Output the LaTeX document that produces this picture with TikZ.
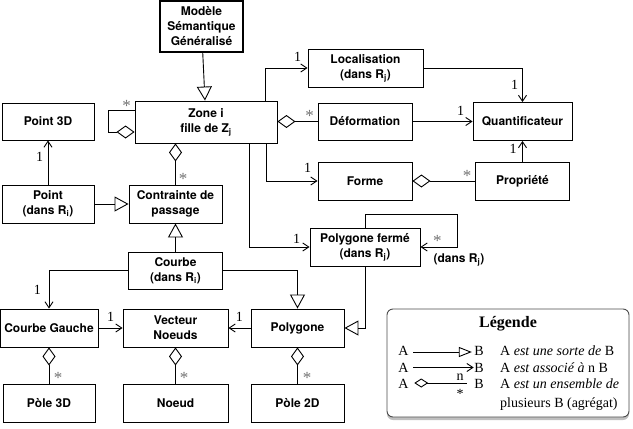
\documentclass[tikz,border=0pt]{standalone}
\usepackage{fontspec}
\setmainfont{Liberation Serif}
\setsansfont{TeX Gyre Heros}
\usetikzlibrary{arrows.meta,shadows}

\tikzset{
    classe/.style={draw, line width=0.9pt, minimum width=#1, minimum height=38pt, inner sep=0pt,
        align=center, font=\sffamily\bfseries\fontsize{12}{15}\selectfont},
    classe/.default=94pt,
    herite/.style={line width=0.9pt, -{Triangle[open,length=14pt,width=15pt]}},
    assoc/.style={line width=0.9pt, -{Straight Barb[length=6pt,width=8pt]}},
    agreg/.style={line width=0.9pt, {Diamond[open,length=18pt,width=13pt]}-},
    mult/.style={font=\fontsize{14}{14}\selectfont, inner sep=0pt},
    etoile/.style={font=\fontsize{17}{17}\selectfont, inner sep=0pt, text=black!55, yshift=-2.5pt},
    leg/.style={font=\fontsize{14}{14}\selectfont, inner sep=0pt},
}

\begin{document}
\begin{tikzpicture}[x=1pt,y=-1pt]
        \useasboundingbox (0,0) rectangle (633,429);

        \node[classe=83pt, minimum height=51pt, line width=2.4pt] (modele) at (201.5,26.5) {Modèle\\Sémantique\\Généralisé};
        \node[classe=142pt, minimum height=42pt] (zone) at (206,122) {Zone i\\fille de Z\textsubscript{j}};
        \node[classe=92pt, minimum height=37pt] (point3d) at (48,121.5) {Point 3D};
        \node[classe=92pt] (point) at (48,204) {Point\\(dans R\textsubscript{i})};
        \node[classe=93pt] (contrainte) at (175.5,204) {Contrainte de\\passage};
        \node[classe=115pt] (loc) at (365.5,68) {Localisation\\(dans R\textsubscript{j})};
        \node[classe=94pt, minimum height=37pt] (deform) at (365,121.5) {Déformation};
        \node[classe=99pt] (quant) at (522.5,121.5) {Quantificateur};
        \node[classe=94pt] (forme) at (365,181) {Forme};
        \node[classe=94pt] (prop) at (522.5,181) {Propriété};
        \node[classe=110pt] (polyf) at (365,247) {Polygone fermé\\(dans R\textsubscript{j})};
        \node[font=\sffamily\bfseries\fontsize{12}{15}\selectfont, inner sep=0pt] (dansrj) at (459,260) {(dans R\textsubscript{j})};
        \node[classe=94pt, minimum height=37pt] (courbe) at (175.5,270.5) {Courbe\\(dans R\textsubscript{i})};
        \node[classe=98pt] (gauche) at (49,328) {Courbe Gauche};
        \node[classe=105pt] (vecteur) at (175.5,328) {Vecteur\\Noeuds};
        \node[classe=93pt] (polygone) at (297.5,328) {Polygone};
        \node[classe=92pt] (pole3d) at (49,403) {Pòle 3D};
        \node[classe=105pt] (noeud) at (175.5,403) {Noeud};
        \node[classe=93pt] (pole2d) at (297.5,403) {Pòle 2D};

        \draw[herite] (modele) -- (zone);
        \draw[agreg] ([yshift=-10pt]zone.west) -- ++(-26,0) |- ([yshift=12pt]zone.west)
            node[etoile, pos=1, xshift=-8pt, yshift=7pt] {*};
        \draw[assoc] (point) -- (point3d) node[mult, pos=1, xshift=-8.5pt, yshift=-16pt] {1};
        \draw[herite] (point) -- (contrainte);
        \draw[agreg] (zone.south -| contrainte.north) -- (contrainte)
            node[etoile, pos=1, xshift=7.5pt, yshift=8pt] {*};
        \draw[herite] (courbe) -- (contrainte);

        \draw[assoc] ([xshift=59pt]zone.north) |- (loc) node[mult, pos=1, xshift=-10pt, yshift=11pt] {1};
        \draw[agreg] (zone.east |- deform) -- (deform) node[etoile, pos=1, xshift=-8pt, yshift=8.5pt] {*};
        \draw[assoc] ([xshift=60pt]zone.south) |- (forme) node[mult, pos=1, xshift=-10pt, yshift=13pt] {1};
        \draw[assoc] ([xshift=43pt]zone.south) |- (polyf) node[mult, pos=1, xshift=-13pt, yshift=8pt] {1};

        \draw[assoc] (loc) -| (quant) node[mult, pos=1, xshift=-8pt, yshift=17pt] {1};
        \draw[assoc] (deform) -- (quant) node[mult, pos=1, xshift=-12pt, yshift=11pt] {1};
        \draw[assoc] (prop) -- (quant) node[mult, pos=1, xshift=-9.5pt, yshift=-8pt] {1};
        \draw[agreg] (forme) -- (prop) node[etoile, pos=1, xshift=-8pt, yshift=8pt] {*};

        \draw[assoc] (polyf.north) -- ++(0,-13) -| ([xshift=37pt]polyf.east) -- (polyf.east)
            node[etoile, pos=1, xshift=17pt, yshift=9pt] {*};
        \draw[herite] (polyf) |- (polygone);

        \draw[assoc] (courbe) -| (gauche) node[mult, pos=1, xshift=-11.5pt, yshift=19pt] {1};
        \draw[herite] (courbe) -| (polygone);
        \draw[assoc] (gauche) -- (vecteur) node[mult, pos=1, xshift=-12pt, yshift=11pt] {1};
        \draw[assoc] (polygone) -- (vecteur) node[mult, pos=1, xshift=11pt, yshift=11pt] {1};

        \draw[agreg] (gauche.south -| pole3d) -- (pole3d) node[etoile, pos=1, xshift=9pt, yshift=8pt] {*};
        \draw[agreg] (vecteur) -- (noeud) node[etoile, pos=1, xshift=8.5pt, yshift=8pt] {*};
        \draw[agreg] (polygone) -- (pole2d) node[etoile, pos=1, xshift=9.5pt, yshift=8pt] {*};

        % legende
        \node[draw=black!70, line width=0.9pt, rounded corners=6pt, minimum width=242pt, minimum height=108pt,
            fill=white, drop shadow={shadow xshift=0pt, shadow yshift=-3pt, opacity=0.5}] (legende) at (508,363) {};
        \node[font=\bfseries\fontsize{16}{16}\selectfont] (titre) at (508,324) {Légende};

        \node[leg, anchor=base] (a1) at (403.5,355.5) {A};
        \node[leg, anchor=base] (b1) at (479,355.5) {B};
        \node[leg, anchor=base] (a2) at (403.5,372) {A};
        \node[leg, anchor=base] (b2) at (479,372) {B};
        \node[leg, anchor=base] (a3) at (403.5,388.5) {A};
        \node[leg, anchor=base] (b3) at (479,388.5) {B};
        \node[leg, anchor=base west] (t1) at (500,355.5) {A \textit{est une sorte de} B};
        \node[leg, anchor=base west] (t2) at (500,372) {A \textit{est associé à} n B};
        \node[leg, anchor=base west] (t3) at (500,388.5) {A \textit{est un ensemble de}};
        \node[leg, anchor=base west] (t4) at (500,407) {plusieurs B (agrégat)};

        \draw[line width=0.9pt, -{Triangle[open,length=13pt,width=10pt]}, shorten <=4.5pt, shorten >=2.3pt]
            ([yshift=3.5pt]a1.base east) -- ([yshift=3.5pt]b1.base west);
        \draw[line width=0.9pt, -{Straight Barb[length=6pt,width=8pt]}, shorten <=4.5pt, shorten >=0.5pt]
            ([yshift=4.5pt]a2.base east) -- ([yshift=4.5pt]b2.base west);
        \draw[line width=0.9pt, {Diamond[open,length=14pt,width=9pt]}-, shorten <=5.5pt, shorten >=7.3pt]
            ([yshift=5.5pt]a3.base east) -- ([yshift=5.5pt]b3.base west)
            node[leg, pos=1, xshift=-14pt, yshift=6pt] {n}
            node[leg, pos=1, xshift=-14pt, yshift=-11pt] {*};
\end{tikzpicture}
\end{document}
